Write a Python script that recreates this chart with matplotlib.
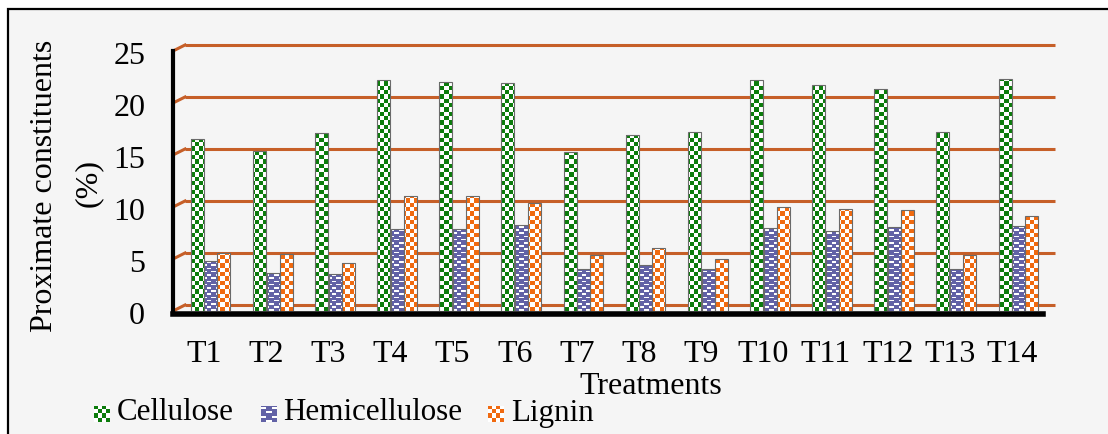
import matplotlib
matplotlib.use("Agg")
import numpy as np
import matplotlib.pyplot as plt
from matplotlib.patches import Rectangle
from matplotlib.path import Path
from matplotlib.colors import ListedColormap
from matplotlib.transforms import ScaledTranslation

treatments = ['T1', 'T2', 'T3', 'T4', 'T5', 'T6', 'T7', 'T8', 'T9', 'T10', 'T11', 'T12', 'T13', 'T14']
cellulose = [16.5, 15.4, 17.1, 22.2, 22.0, 21.9, 15.3, 16.9, 17.2, 22.2, 21.7, 21.3, 17.2, 22.3]
hemicellulose = [4.8, 3.7, 3.6, 7.9, 7.9, 8.3, 4.0, 4.4, 4.0, 8.0, 7.7, 8.1, 4.0, 8.2]
lignin = [5.6, 5.5, 4.6, 11.1, 11.1, 10.4, 5.4, 6.1, 5.0, 10.0, 9.8, 9.7, 5.4, 9.1]
yticks = [0, 5, 10, 15, 20, 25]

plt.rcParams['font.family'] = ['Liberation Serif', 'DejaVu Serif']

W, H = 1108, 434
fig = plt.figure(figsize=(W / 100, H / 100), dpi=100, facecolor='white')

# outer frame of the chart area
fig.patches.append(Rectangle((8 / W, -0.1), 1.2, 1 - 9 / H + 0.1, transform=fig.transFigure,
                             facecolor='#f5f5f5', edgecolor='black', linewidth=1.6, zorder=-5))

ax = fig.add_axes([173 / W, (H - 311) / H, 870 / W, 260 / H])
ax.patch.set_visible(False)
ax.set_xlim(-0.5, len(treatments) - 0.5)
ax.set_ylim(0, 25)


def checker(rows, cols):
    return np.add.outer(np.arange(rows), np.arange(cols)) % 2


def dashes(rows, cols):
    t = np.zeros((rows, cols))
    r = np.arange(rows)[:, None]
    c = np.arange(cols)[None, :]
    t[(r % 4 == 1) & ((c // 3) % 2 == 0)] = 1
    t[(r % 4 == 3) & ((c // 3) % 2 == 1)] = 1
    return t


x = np.arange(len(treatments))
series = [
    ('Cellulose', cellulose, '#0c7c0c', checker, 4.3, -0.11),
    ('Hemicellulose', hemicellulose, '#6262a6', dashes, 1.6, 0.11),
    ('Lignin', lignin, '#f06a10', checker, 4.3, 0.32),
]
for name, vals, col, tex, cell, off in series:
    bars = ax.bar(x + off, vals, width=0.21, fill=False, edgecolor='#6a6a6a', linewidth=0.8, zorder=4)
    path = Path.make_compound_path(*[b.get_path().transformed(b.get_patch_transform()) for b in bars])
    img = tex(int(260 / cell), int(870 / cell))
    im = ax.imshow(img, cmap=ListedColormap([col, 'white']), vmin=0, vmax=1,
                   extent=(-0.5, len(treatments) - 0.5, 0, 25), aspect='auto',
                   interpolation='nearest', zorder=3)
    im.set_clip_path(path, transform=ax.transData)

# back-wall gridlines (3D offset) and side-wall diagonals
grid_col = '#c65f28'
back = ax.transData + ScaledTranslation(12 / 100, 6 / 100, fig.dpi_scale_trans)
for v in yticks:
    ax.plot([-0.5, len(treatments) - 0.5], [v, v], color=grid_col, lw=2.2, transform=back,
            zorder=1, clip_on=False, solid_capstyle='butt')
    x0, y0 = ax.transData.transform((-0.5, v))
    x1, y1 = back.transform((-0.5, v))
    ax.plot([x0, x1], [y0, y1], color=grid_col, lw=2.2, transform=None, zorder=1, clip_on=False)

for s in ['top', 'right']:
    ax.spines[s].set_visible(False)
ax.spines['left'].set_linewidth(3)
ax.spines['bottom'].set_linewidth(4)
ax.spines['bottom'].set_position(('outward', 2))
ax.spines['left'].set_zorder(5)
ax.spines['bottom'].set_zorder(5)

ax.set_yticks(yticks)
ax.set_xticks(x)
ax.set_xticklabels(treatments)
ax.tick_params(axis='y', length=0, pad=20, labelsize=23)
ax.tick_params(axis='x', length=0, pad=19, labelsize=23)
for lab in ax.get_yticklabels():
    lab.set_transform(lab.get_transform() + ScaledTranslation(0, -2 / 100, fig.dpi_scale_trans))

fig.text(651 / W, 1 - 386 / H, 'Treatments', ha='center', va='center', fontsize=23)
fig.text(45 / W, 1 - 186 / H, 'Proximate constituents', ha='center', va='center',
         rotation=90, fontsize=23)
fig.text(88 / W, 1 - 183 / H, '(%)', ha='center', va='center', rotation=90, fontsize=23)

# legend
leg_items = [(94, 117), (261, 283), (488, 511)]
for (mx, tx), (name, vals, col, tex, cell, off) in zip(leg_items, series):
    lax = fig.add_axes([mx / W, 1 - 422 / H, 16 / W, 16 / H])
    lax.imshow(tex(4, 4) if tex is checker else tex(8, 9), cmap=ListedColormap([col, 'white']),
               vmin=0, vmax=1, aspect='auto', interpolation='nearest')
    lax.axis('off')
    fig.text(tx / W, 1 - 413 / H, name, ha='left', va='center', fontsize=22.3)

fig.savefig('out.png', dpi=100, facecolor=fig.get_facecolor())
